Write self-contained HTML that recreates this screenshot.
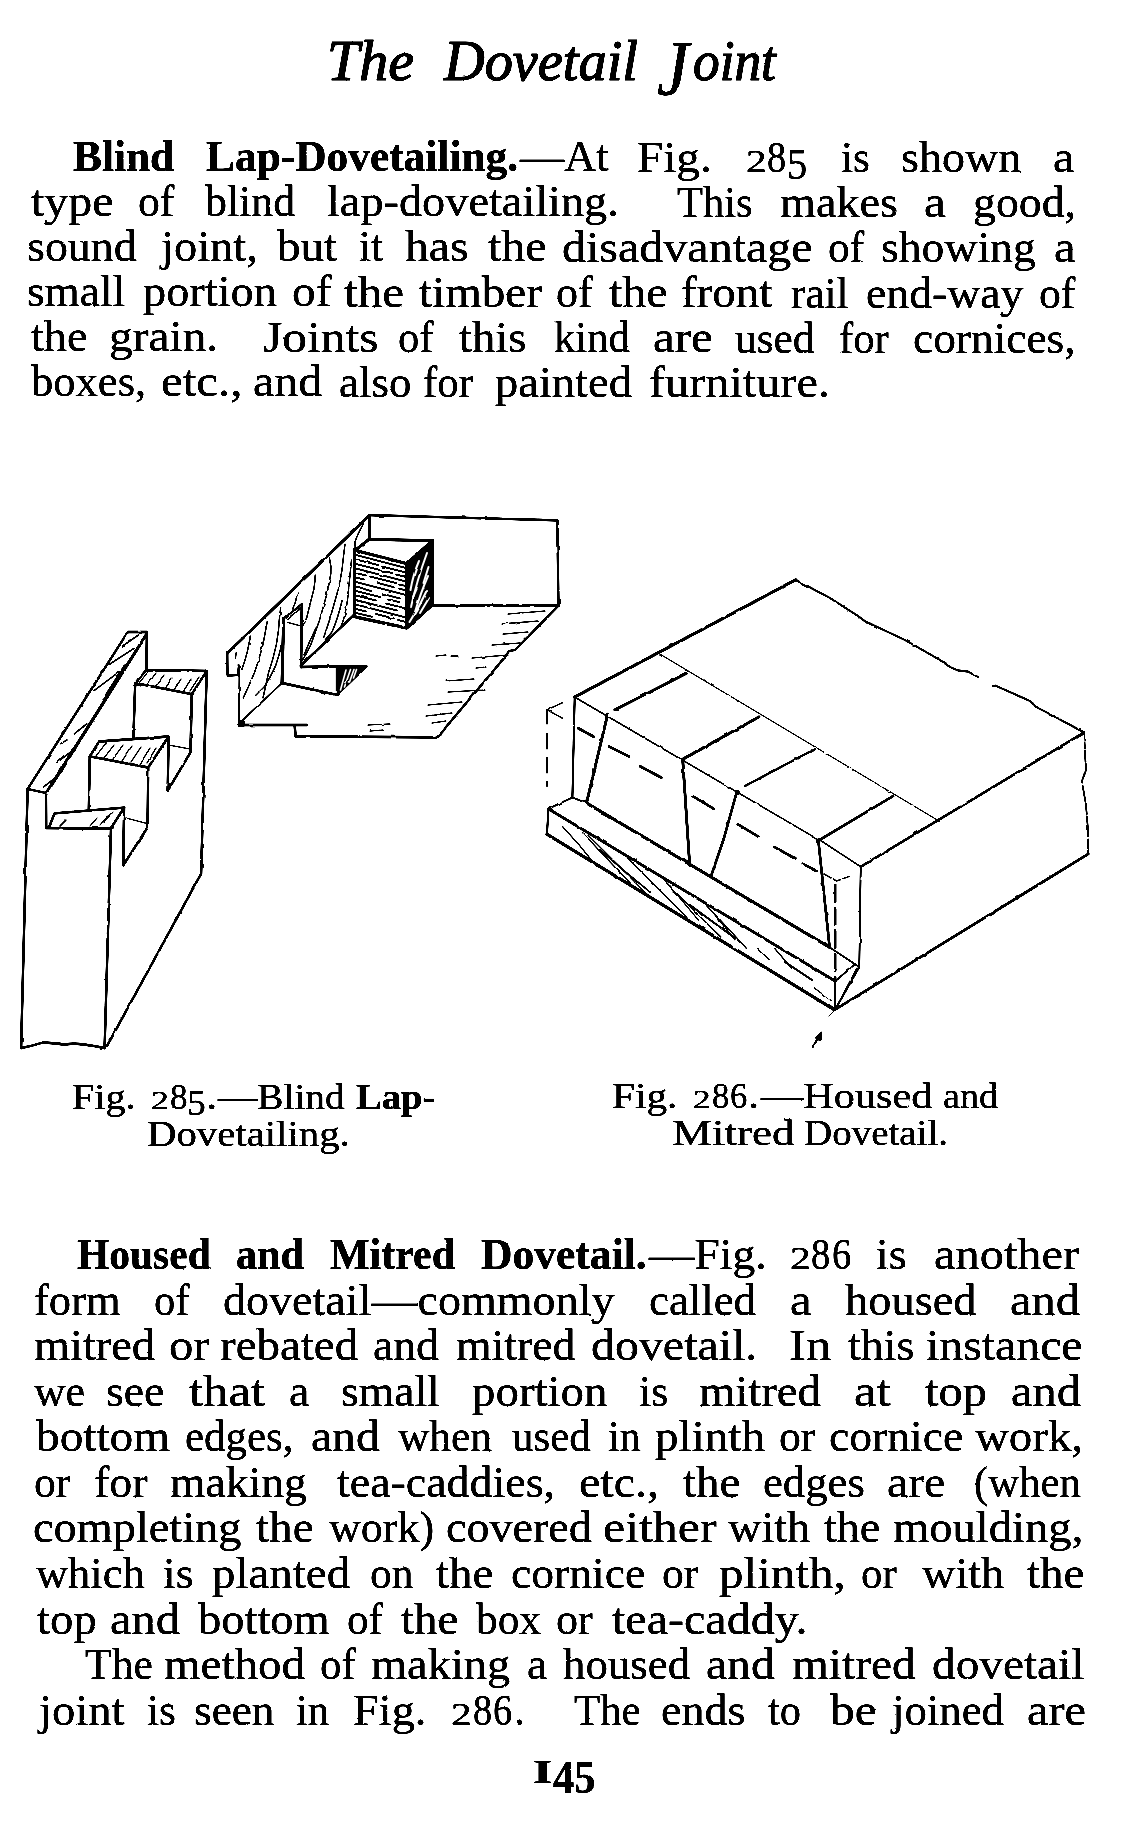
<!DOCTYPE html>
<html><head><meta charset="utf-8"><title>The Dovetail Joint</title>
<style>
html,body{margin:0;padding:0;background:#fff;}
body{width:1132px;height:1837px;position:relative;overflow:hidden;font-family:"Liberation Serif",serif;color:#000;}
.t{position:absolute;white-space:pre;line-height:1;transform-origin:0 0;font-family:"Liberation Serif",serif;-webkit-text-stroke:0.3px #000;}
svg{position:absolute;left:0;top:0;}
#txt{position:absolute;left:0;top:0;width:1132px;height:1837px;filter:url(#roughtxt);}
</style></head><body>
<div id="txt">
<div class="t" style="left:327.2px;top:31.7px;font-size:58.0px;font-style:italic;-webkit-text-stroke:1.2px #000;transform:scaleX(0.998)">The</div>
<div class="t" style="left:444.0px;top:31.7px;font-size:58.0px;font-style:italic;-webkit-text-stroke:1.2px #000;transform:scaleX(0.971)">Dovetail</div>
<div class="t" style="left:693.3px;top:31.7px;font-size:58.0px;font-style:italic;-webkit-text-stroke:1.2px #000;transform:scaleX(0.919)">oint</div>
<div class="t" style="left:657.1px;top:29.2px;font-size:78.0px;font-style:italic;-webkit-text-stroke:0.6px #000;transform:scaleX(0.919)">J</div>
<div class="t" style="left:72.9px;top:134.8px;font-size:44.0px;font-weight:bold;transform:scaleX(0.985)">Blind</div>
<div class="t" style="left:206.0px;top:135.1px;font-size:44.0px;font-weight:bold;transform:scaleX(0.986)">Lap-Dovetailing.</div>
<div class="t" style="left:519.5px;top:135.3px;font-size:44.0px;transform:scaleX(1.005)">—At</div>
<div class="t" style="left:637.1px;top:135.5px;font-size:44.0px;transform:scaleX(1.072)">Fig.</div>
<div class="t" style="left:745.8px;top:146.6px;font-size:30.8px;transform:scaleX(1.342)">2</div>
<div class="t" style="left:767.1px;top:135.6px;font-size:44.0px;transform:scaleX(0.872)">8</div>
<div class="t" style="left:786.9px;top:143.1px;font-size:44.0px;transform:scaleX(0.918)">5</div>
<div class="t" style="left:841.3px;top:135.7px;font-size:44.0px;transform:scaleX(0.985)">is</div>
<div class="t" style="left:901.2px;top:135.8px;font-size:44.0px;transform:scaleX(1.047)">shown</div>
<div class="t" style="left:1053.0px;top:135.9px;font-size:44.0px;transform:scaleX(1.089)">a</div>
<div class="t" style="left:30.5px;top:179.7px;font-size:44.0px;transform:scaleX(1.089)">type</div>
<div class="t" style="left:138.1px;top:179.8px;font-size:44.0px;transform:scaleX(0.994)">of</div>
<div class="t" style="left:205.4px;top:179.9px;font-size:44.0px;transform:scaleX(0.996)">blind</div>
<div class="t" style="left:327.2px;top:180.2px;font-size:44.0px;transform:scaleX(1.052)">lap-dovetailing.</div>
<div class="t" style="left:676.5px;top:180.5px;font-size:44.0px;transform:scaleX(0.966)">This</div>
<div class="t" style="left:780.0px;top:180.7px;font-size:44.0px;transform:scaleX(1.050)">makes</div>
<div class="t" style="left:924.4px;top:180.8px;font-size:44.0px;transform:scaleX(1.121)">a</div>
<div class="t" style="left:972.8px;top:180.9px;font-size:44.0px;transform:scaleX(1.041)">good,</div>
<div class="t" style="left:26.8px;top:224.8px;font-size:44.0px;transform:scaleX(1.044)">sound</div>
<div class="t" style="left:161.1px;top:225.0px;font-size:44.0px;transform:scaleX(1.056)">joint,</div>
<div class="t" style="left:277.0px;top:225.1px;font-size:44.0px;transform:scaleX(1.071)">but</div>
<div class="t" style="left:358.8px;top:225.2px;font-size:44.0px;transform:scaleX(0.985)">it</div>
<div class="t" style="left:404.6px;top:225.3px;font-size:44.0px;transform:scaleX(1.083)">has</div>
<div class="t" style="left:488.0px;top:225.4px;font-size:44.0px;transform:scaleX(1.091)">the</div>
<div class="t" style="left:561.6px;top:225.6px;font-size:44.0px;transform:scaleX(1.091)">disadvantage</div>
<div class="t" style="left:827.7px;top:225.8px;font-size:44.0px;transform:scaleX(0.985)">of</div>
<div class="t" style="left:881.4px;top:225.9px;font-size:44.0px;transform:scaleX(1.038)">showing</div>
<div class="t" style="left:1053.5px;top:226.0px;font-size:44.0px;transform:scaleX(1.106)">a</div>
<div class="t" style="left:26.8px;top:269.9px;font-size:44.0px;transform:scaleX(1.029)">small</div>
<div class="t" style="left:143.1px;top:270.2px;font-size:44.0px;transform:scaleX(1.053)">portion</div>
<div class="t" style="left:291.9px;top:270.4px;font-size:44.0px;transform:scaleX(1.075)">of</div>
<div class="t" style="left:343.6px;top:270.6px;font-size:44.0px;transform:scaleX(1.116)">the</div>
<div class="t" style="left:419.1px;top:270.8px;font-size:44.0px;transform:scaleX(1.070)">timber</div>
<div class="t" style="left:556.0px;top:271.1px;font-size:44.0px;transform:scaleX(1.003)">of</div>
<div class="t" style="left:609.0px;top:271.2px;font-size:44.0px;transform:scaleX(1.091)">the</div>
<div class="t" style="left:680.8px;top:271.4px;font-size:44.0px;transform:scaleX(1.069)">front</div>
<div class="t" style="left:790.6px;top:271.6px;font-size:44.0px;transform:scaleX(0.983)">rail</div>
<div class="t" style="left:865.5px;top:271.9px;font-size:44.0px;transform:scaleX(1.039)">end-way</div>
<div class="t" style="left:1039.0px;top:272.2px;font-size:44.0px;transform:scaleX(0.994)">of</div>
<div class="t" style="left:31.3px;top:314.9px;font-size:44.0px;transform:scaleX(1.049)">the</div>
<div class="t" style="left:108.9px;top:315.2px;font-size:44.0px;transform:scaleX(1.077)">grain.</div>
<div class="t" style="left:263.1px;top:315.5px;font-size:44.0px;transform:scaleX(1.125)">Joints</div>
<div class="t" style="left:398.1px;top:315.8px;font-size:44.0px;transform:scaleX(0.969)">of</div>
<div class="t" style="left:458.9px;top:316.0px;font-size:44.0px;transform:scaleX(1.062)">this</div>
<div class="t" style="left:554.3px;top:316.2px;font-size:44.0px;transform:scaleX(0.970)">kind</div>
<div class="t" style="left:653.0px;top:316.4px;font-size:44.0px;transform:scaleX(1.114)">are</div>
<div class="t" style="left:734.9px;top:316.6px;font-size:44.0px;transform:scaleX(0.986)">used</div>
<div class="t" style="left:839.0px;top:316.8px;font-size:44.0px;transform:scaleX(0.969)">for</div>
<div class="t" style="left:913.2px;top:317.2px;font-size:44.0px;transform:scaleX(1.032)">cornices,</div>
<div class="t" style="left:31.3px;top:360.0px;font-size:44.0px;transform:scaleX(1.013)">boxes,</div>
<div class="t" style="left:160.6px;top:360.2px;font-size:44.0px;transform:scaleX(1.113)">etc.,</div>
<div class="t" style="left:253.3px;top:360.3px;font-size:44.0px;transform:scaleX(1.087)">and</div>
<div class="t" style="left:338.6px;top:360.5px;font-size:44.0px;transform:scaleX(1.021)">also</div>
<div class="t" style="left:423.4px;top:360.7px;font-size:44.0px;transform:scaleX(0.972)">for</div>
<div class="t" style="left:494.7px;top:360.9px;font-size:44.0px;transform:scaleX(1.057)">painted</div>
<div class="t" style="left:649.0px;top:361.2px;font-size:44.0px;transform:scaleX(1.097)">furniture.</div>
<div class="t" style="left:71.5px;top:1078.8px;font-size:36.0px;transform:scaleX(1.116)">Fig.</div>
<div class="t" style="left:150.8px;top:1087.9px;font-size:25.2px;transform:scaleX(1.419)">2</div>
<div class="t" style="left:169.8px;top:1078.8px;font-size:36.0px;transform:scaleX(0.975)">8</div>
<div class="t" style="left:187.3px;top:1085.0px;font-size:36.0px;transform:scaleX(1.040)">5</div>
<div class="t" style="left:206.0px;top:1078.8px;font-size:36.0px;transform:scaleX(1.254)">.</div>
<div class="t" style="left:217.9px;top:1078.8px;font-size:36.0px;transform:scaleX(1.091)">—Blind</div>
<div class="t" style="left:356.0px;top:1078.8px;font-size:36.0px;font-weight:bold;transform:scaleX(1.073)">Lap-</div>
<div class="t" style="left:147.0px;top:1116.2px;font-size:36.0px;transform:scaleX(1.133)">Dovetailing.</div>
<div class="t" style="left:612.0px;top:1077.8px;font-size:36.0px;transform:scaleX(1.146)">Fig.</div>
<div class="t" style="left:693.4px;top:1086.8px;font-size:25.2px;transform:scaleX(1.399)">2</div>
<div class="t" style="left:712.1px;top:1077.8px;font-size:36.0px;transform:scaleX(0.962)">8</div>
<div class="t" style="left:730.4px;top:1077.8px;font-size:36.0px;transform:scaleX(0.962)">6</div>
<div class="t" style="left:747.8px;top:1077.8px;font-size:36.0px;transform:scaleX(1.237)">.</div>
<div class="t" style="left:760.6px;top:1077.8px;font-size:36.0px;transform:scaleX(1.174)">—Housed</div>
<div class="t" style="left:943.1px;top:1077.8px;font-size:36.0px;transform:scaleX(1.061)">and</div>
<div class="t" style="left:671.5px;top:1115.2px;font-size:36.0px;transform:scaleX(1.249)">Mitred</div>
<div class="t" style="left:803.7px;top:1115.2px;font-size:36.0px;transform:scaleX(1.083)">Dovetail.</div>
<div class="t" style="left:77.4px;top:1233.0px;font-size:44.0px;font-weight:bold;transform:scaleX(0.943)">Housed</div>
<div class="t" style="left:236.2px;top:1233.0px;font-size:44.0px;font-weight:bold;transform:scaleX(0.960)">and</div>
<div class="t" style="left:330.4px;top:1233.0px;font-size:44.0px;font-weight:bold;transform:scaleX(0.953)">Mitred</div>
<div class="t" style="left:481.4px;top:1233.0px;font-size:44.0px;font-weight:bold;transform:scaleX(0.990)">Dovetail.</div>
<div class="t" style="left:648.5px;top:1233.0px;font-size:44.0px;transform:scaleX(1.035)">—Fig.</div>
<div class="t" style="left:789.6px;top:1244.0px;font-size:30.8px;transform:scaleX(1.348)">2</div>
<div class="t" style="left:811.0px;top:1233.0px;font-size:44.0px;transform:scaleX(0.876)">8</div>
<div class="t" style="left:831.8px;top:1233.0px;font-size:44.0px;transform:scaleX(0.876)">6</div>
<div class="t" style="left:875.7px;top:1233.0px;font-size:44.0px;transform:scaleX(1.035)">is</div>
<div class="t" style="left:934.3px;top:1233.0px;font-size:44.0px;transform:scaleX(1.100)">another</div>
<div class="t" style="left:34.2px;top:1278.6px;font-size:44.0px;transform:scaleX(1.013)">form</div>
<div class="t" style="left:153.8px;top:1278.6px;font-size:44.0px;transform:scaleX(0.969)">of</div>
<div class="t" style="left:223.0px;top:1278.6px;font-size:44.0px;transform:scaleX(1.047)">dovetail—commonly</div>
<div class="t" style="left:649.1px;top:1278.6px;font-size:44.0px;transform:scaleX(1.019)">called</div>
<div class="t" style="left:789.5px;top:1278.6px;font-size:44.0px;transform:scaleX(1.106)">a</div>
<div class="t" style="left:844.9px;top:1278.6px;font-size:44.0px;transform:scaleX(1.055)">housed</div>
<div class="t" style="left:1009.8px;top:1278.6px;font-size:44.0px;transform:scaleX(1.102)">and</div>
<div class="t" style="left:33.9px;top:1324.4px;font-size:44.0px;transform:scaleX(1.054)">mitred</div>
<div class="t" style="left:168.5px;top:1324.4px;font-size:44.0px;transform:scaleX(1.106)">or</div>
<div class="t" style="left:220.0px;top:1324.4px;font-size:44.0px;transform:scaleX(1.067)">rebated</div>
<div class="t" style="left:373.1px;top:1324.4px;font-size:44.0px;transform:scaleX(1.038)">and</div>
<div class="t" style="left:456.3px;top:1324.4px;font-size:44.0px;transform:scaleX(1.040)">mitred</div>
<div class="t" style="left:590.7px;top:1324.4px;font-size:44.0px;transform:scaleX(1.089)">dovetail.</div>
<div class="t" style="left:789.4px;top:1324.4px;font-size:44.0px;transform:scaleX(1.153)">In</div>
<div class="t" style="left:847.6px;top:1324.4px;font-size:44.0px;transform:scaleX(1.044)">this</div>
<div class="t" style="left:926.1px;top:1324.4px;font-size:44.0px;transform:scaleX(1.086)">instance</div>
<div class="t" style="left:34.0px;top:1369.8px;font-size:44.0px;transform:scaleX(0.994)">we</div>
<div class="t" style="left:106.3px;top:1369.8px;font-size:44.0px;transform:scaleX(1.038)">see</div>
<div class="t" style="left:188.6px;top:1369.8px;font-size:44.0px;transform:scaleX(1.155)">that</div>
<div class="t" style="left:289.4px;top:1369.8px;font-size:44.0px;transform:scaleX(1.044)">a</div>
<div class="t" style="left:340.5px;top:1369.8px;font-size:44.0px;transform:scaleX(1.036)">small</div>
<div class="t" style="left:472.2px;top:1369.8px;font-size:44.0px;transform:scaleX(1.066)">portion</div>
<div class="t" style="left:639.4px;top:1369.8px;font-size:44.0px;transform:scaleX(0.994)">is</div>
<div class="t" style="left:699.1px;top:1369.8px;font-size:44.0px;transform:scaleX(1.062)">mitred</div>
<div class="t" style="left:854.2px;top:1369.8px;font-size:44.0px;transform:scaleX(1.155)">at</div>
<div class="t" style="left:924.8px;top:1369.8px;font-size:44.0px;transform:scaleX(1.103)">top</div>
<div class="t" style="left:1011.1px;top:1369.8px;font-size:44.0px;transform:scaleX(1.100)">and</div>
<div class="t" style="left:35.8px;top:1415.4px;font-size:44.0px;transform:scaleX(1.075)">bottom</div>
<div class="t" style="left:184.5px;top:1415.4px;font-size:44.0px;transform:scaleX(0.975)">edges,</div>
<div class="t" style="left:310.7px;top:1415.4px;font-size:44.0px;transform:scaleX(1.081)">and</div>
<div class="t" style="left:397.9px;top:1415.4px;font-size:44.0px;transform:scaleX(0.987)">when</div>
<div class="t" style="left:511.9px;top:1415.4px;font-size:44.0px;transform:scaleX(0.975)">used</div>
<div class="t" style="left:607.9px;top:1415.4px;font-size:44.0px;transform:scaleX(0.955)">in</div>
<div class="t" style="left:655.4px;top:1415.4px;font-size:44.0px;transform:scaleX(1.071)">plinth</div>
<div class="t" style="left:779.0px;top:1415.4px;font-size:44.0px;transform:scaleX(0.994)">or</div>
<div class="t" style="left:829.3px;top:1415.4px;font-size:44.0px;transform:scaleX(1.037)">cornice</div>
<div class="t" style="left:975.1px;top:1415.4px;font-size:44.0px;transform:scaleX(1.065)">work,</div>
<div class="t" style="left:33.5px;top:1461.1px;font-size:44.0px;transform:scaleX(0.992)">or</div>
<div class="t" style="left:94.4px;top:1461.1px;font-size:44.0px;transform:scaleX(1.046)">for</div>
<div class="t" style="left:169.6px;top:1461.1px;font-size:44.0px;transform:scaleX(1.037)">making</div>
<div class="t" style="left:337.0px;top:1461.1px;font-size:44.0px;transform:scaleX(1.044)">tea-caddies,</div>
<div class="t" style="left:578.8px;top:1461.1px;font-size:44.0px;transform:scaleX(1.093)">etc.,</div>
<div class="t" style="left:683.2px;top:1461.1px;font-size:44.0px;transform:scaleX(1.067)">the</div>
<div class="t" style="left:763.1px;top:1461.1px;font-size:44.0px;transform:scaleX(1.017)">edges</div>
<div class="t" style="left:886.6px;top:1461.1px;font-size:44.0px;transform:scaleX(1.086)">are</div>
<div class="t" style="left:974.1px;top:1461.1px;font-size:44.0px;transform:scaleX(0.972)">(when</div>
<div class="t" style="left:32.8px;top:1506.4px;font-size:44.0px;transform:scaleX(1.053)">completing</div>
<div class="t" style="left:255.8px;top:1506.4px;font-size:44.0px;transform:scaleX(1.072)">the</div>
<div class="t" style="left:329.0px;top:1506.4px;font-size:44.0px;transform:scaleX(1.000)">work)</div>
<div class="t" style="left:446.0px;top:1506.4px;font-size:44.0px;transform:scaleX(1.047)">covered</div>
<div class="t" style="left:602.6px;top:1506.4px;font-size:44.0px;transform:scaleX(1.133)">either</div>
<div class="t" style="left:728.3px;top:1506.4px;font-size:44.0px;transform:scaleX(1.051)">with</div>
<div class="t" style="left:823.7px;top:1506.4px;font-size:44.0px;transform:scaleX(1.047)">the</div>
<div class="t" style="left:893.0px;top:1506.4px;font-size:44.0px;transform:scaleX(1.059)">moulding,</div>
<div class="t" style="left:35.8px;top:1551.5px;font-size:44.0px;transform:scaleX(1.010)">which</div>
<div class="t" style="left:163.0px;top:1551.5px;font-size:44.0px;transform:scaleX(1.035)">is</div>
<div class="t" style="left:212.0px;top:1551.5px;font-size:44.0px;transform:scaleX(1.067)">planted</div>
<div class="t" style="left:370.4px;top:1551.5px;font-size:44.0px;transform:scaleX(0.986)">on</div>
<div class="t" style="left:436.4px;top:1551.5px;font-size:44.0px;transform:scaleX(1.065)">the</div>
<div class="t" style="left:510.9px;top:1551.5px;font-size:44.0px;transform:scaleX(1.037)">cornice</div>
<div class="t" style="left:662.4px;top:1551.5px;font-size:44.0px;transform:scaleX(0.992)">or</div>
<div class="t" style="left:719.0px;top:1551.5px;font-size:44.0px;transform:scaleX(1.116)">plinth,</div>
<div class="t" style="left:861.2px;top:1551.5px;font-size:44.0px;transform:scaleX(0.973)">or</div>
<div class="t" style="left:922.1px;top:1551.5px;font-size:44.0px;transform:scaleX(1.051)">with</div>
<div class="t" style="left:1026.8px;top:1551.5px;font-size:44.0px;transform:scaleX(1.067)">the</div>
<div class="t" style="left:36.6px;top:1597.5px;font-size:44.0px;transform:scaleX(1.065)">top</div>
<div class="t" style="left:110.2px;top:1597.5px;font-size:44.0px;transform:scaleX(1.102)">and</div>
<div class="t" style="left:197.5px;top:1597.5px;font-size:44.0px;transform:scaleX(1.057)">bottom</div>
<div class="t" style="left:346.8px;top:1597.5px;font-size:44.0px;transform:scaleX(0.980)">of</div>
<div class="t" style="left:400.6px;top:1597.5px;font-size:44.0px;transform:scaleX(1.067)">the</div>
<div class="t" style="left:476.1px;top:1597.5px;font-size:44.0px;transform:scaleX(0.985)">box</div>
<div class="t" style="left:556.0px;top:1597.5px;font-size:44.0px;transform:scaleX(1.003)">or</div>
<div class="t" style="left:611.7px;top:1597.5px;font-size:44.0px;transform:scaleX(1.092)">tea-caddy.</div>
<div class="t" style="left:84.8px;top:1642.8px;font-size:44.0px;transform:scaleX(0.991)">The</div>
<div class="t" style="left:164.3px;top:1642.8px;font-size:44.0px;transform:scaleX(1.068)">method</div>
<div class="t" style="left:320.4px;top:1642.8px;font-size:44.0px;transform:scaleX(0.975)">of</div>
<div class="t" style="left:371.4px;top:1642.8px;font-size:44.0px;transform:scaleX(1.055)">making</div>
<div class="t" style="left:526.8px;top:1642.8px;font-size:44.0px;transform:scaleX(1.033)">a</div>
<div class="t" style="left:562.7px;top:1642.8px;font-size:44.0px;transform:scaleX(1.020)">housed</div>
<div class="t" style="left:706.0px;top:1642.8px;font-size:44.0px;transform:scaleX(1.081)">and</div>
<div class="t" style="left:791.9px;top:1642.8px;font-size:44.0px;transform:scaleX(1.076)">mitred</div>
<div class="t" style="left:931.6px;top:1642.8px;font-size:44.0px;transform:scaleX(1.075)">dovetail</div>
<div class="t" style="left:39.2px;top:1689.0px;font-size:44.0px;transform:scaleX(1.061)">joint</div>
<div class="t" style="left:147.1px;top:1689.0px;font-size:44.0px;transform:scaleX(0.985)">is</div>
<div class="t" style="left:193.8px;top:1689.0px;font-size:44.0px;transform:scaleX(1.030)">seen</div>
<div class="t" style="left:295.9px;top:1689.0px;font-size:44.0px;transform:scaleX(0.967)">in</div>
<div class="t" style="left:353.1px;top:1689.0px;font-size:44.0px;transform:scaleX(1.053)">Fig.</div>
<div class="t" style="left:451.3px;top:1700.0px;font-size:30.8px;transform:scaleX(1.339)">2</div>
<div class="t" style="left:472.5px;top:1689.0px;font-size:44.0px;transform:scaleX(0.870)">8</div>
<div class="t" style="left:493.2px;top:1689.0px;font-size:44.0px;transform:scaleX(0.870)">6</div>
<div class="t" style="left:513.5px;top:1689.0px;font-size:44.0px;transform:scaleX(0.999)">.</div>
<div class="t" style="left:574.4px;top:1689.0px;font-size:44.0px;transform:scaleX(0.973)">The</div>
<div class="t" style="left:661.0px;top:1689.0px;font-size:44.0px;transform:scaleX(1.047)">ends</div>
<div class="t" style="left:767.9px;top:1689.0px;font-size:44.0px;transform:scaleX(0.966)">to</div>
<div class="t" style="left:829.9px;top:1689.0px;font-size:44.0px;transform:scaleX(1.122)">be</div>
<div class="t" style="left:892.3px;top:1689.0px;font-size:44.0px;transform:scaleX(1.018)">joined</div>
<div class="t" style="left:1027.0px;top:1689.0px;font-size:44.0px;transform:scaleX(1.098)">are</div>
<div class="t" style="left:532.5px;top:1756.4px;font-size:33.0px;font-weight:bold;transform:scaleX(1.500)">I</div>
<div class="t" style="left:553.0px;top:1755.0px;font-size:46.0px;font-weight:bold;transform:scaleX(0.922)">45</div>
</div>
<svg width="1132" height="1837" viewBox="0 0 1132 1837" fill="none" stroke="#000" stroke-linecap="round" stroke-linejoin="round">
<defs><filter id="rough" x="0" y="0" width="100%" height="100%" filterUnits="userSpaceOnUse"><feTurbulence type="fractalNoise" baseFrequency="0.09" numOctaves="2" seed="7" result="n"/><feDisplacementMap in="SourceGraphic" in2="n" scale="2.2" xChannelSelector="R" yChannelSelector="G" result="d"/><feComponentTransfer in="d"><feFuncA type="linear" slope="4" intercept="-0.7"/></feComponentTransfer></filter><filter id="roughtxt" x="0" y="0" width="1132" height="1837" filterUnits="userSpaceOnUse"><feTurbulence type="fractalNoise" baseFrequency="0.35" numOctaves="2" seed="3" result="n"/><feDisplacementMap in="SourceGraphic" in2="n" scale="1.6" xChannelSelector="R" yChannelSelector="G" result="d"/><feComponentTransfer in="d"><feFuncA type="linear" slope="3" intercept="-0.85"/></feComponentTransfer></filter></defs>
<!-- ===== Fig 285 left piece (pin board) ===== -->
<g id="f285a" stroke-width="2.3" filter="url(#rough)">
  <path d="M27.6 789 L127.8 632 L146.9 632 L146.5 670"/>
  <path d="M46 793 L146.5 634" stroke-width="2.4"/>
  <path d="M27.6 789 L46 793"/>
  <path d="M27.6 789 L21.1 1048"/>
  <path d="M21.1 1048 Q32 1046 43 1042.5 Q54 1043 64 1044.5 Q74 1043 84 1044.5 Q95 1046 104.6 1048"/>
  <path d="M104.6 1048 L111 828"/>
  <path d="M46 793 L46.2 827.5"/>
  <path d="M46.2 828 L111 828.6" stroke-width="2.4"/>
  <path d="M49 827.5 L54.5 813.4 L124.1 807.6 L111 828.2"/>
  <path d="M124.1 807.6 L123.2 865.3 L147.6 827.3"/>
  <path d="M126 818 L147.3 823.6" stroke-width="1"/>
  <path d="M148.2 767.5 L147.6 827.3"/>
  <path d="M89.8 756.4 L99.1 741.5 L168.6 736.5 L148.2 767.5 Z"/>
  <path d="M89.8 756.4 L88.8 809.5"/>
  <path d="M168.6 736.5 L167.7 790.7 L190.9 751.7"/>
  <path d="M169.6 745.2 L190 749" stroke-width="1"/>
  <path d="M191.8 694.2 L190.5 751"/>
  <path d="M135.2 683.1 L146.4 670.1 L206.7 671 L191.8 694.2 Z"/>
  <path d="M135.2 683.1 L133.4 737"/>
  <path d="M206.7 671 L201.1 873.7 L107 1046"/>
  <!-- hatching -->
  <g stroke-width="1.1">
    <path d="M139 683 L148 672 M147 685 L156 673 M155 687 L164 675 M165 689 L172 678 M174 690 L181 679 M183 692 L191 679 M190 691 L199 677"/>
    <path d="M96 756 L106 743 M104 758 L114 745 M113 759 L123 745 M122 761 L132 746 M131 762 L141 747 M140 764 L150 748 M147 763 L156 748"/>
    <path d="M60 826 L66 820 M90 826 L97 818 M100 825 L108 816 M104 822 L113 812"/>
    <path d="M122.6 646 L138.7 634.9 M109 664.6 L133.8 648.5 M94.2 690.5 L118.9 672 M74.4 733.8 L86.8 723.9 M60.8 743.7 L67 740 M57.1 762.3 L71.9 751.1 M43.5 787 L54.6 778.4" stroke-width="1.4"/>
    <path d="M104 699 L125 666 M61 771 L73 750" stroke-width="3"/>
    <path d="M52 786 L142 643" stroke-width="1.3"/>
  </g>
</g>
<!-- ===== Fig 285 upper piece (tail board) ===== -->
<g id="f285b" stroke-width="2.2" filter="url(#rough)">
  <path d="M369.5 515.2 L557.4 520.3 L558.4 605.7" />
  <path d="M432.4 605.2 L558.4 605.7" stroke-width="2.4"/>
  <path d="M369.5 515.2 L227.2 653.4" stroke-width="2.6"/>
  <path d="M227.2 653.4 L227.4 675.7 L238 675 L239 666"/>
  <path d="M239.4 666 L239 724.5" stroke-width="1.3"/>
  <path d="M238.5 665 L240 667 M239 721.5 L243.5 721.5 L243.5 725.5 L239 725.5 Z" stroke-width="2" fill="#000"/>
  <path d="M238 725 L307 725 M294.7 725 L295.5 736.5 L435.5 737.3" stroke-width="2.4"/>
  <path d="M435.5 737 Q442 734 446 727 L505 657 L509 651 L515 650 L558.4 605.7"/>
  <path d="M240 722.6 L282 683" stroke-width="1.5"/>
  <path d="M283.6 619.3 L282 683" stroke-width="2.8"/>
  <path d="M283.6 619.3 L301.9 604.1 L301 667" stroke-width="2.4"/>
  <path d="M288 622.5 L301 626 M288 619.5 L300 609" stroke-width="1.2"/>
  <path d="M301 667 L366.3 666.2 L336.9 694.8 L282 683" stroke-width="2.4"/>
  <path d="M336.9 668 L336.9 694.8"/>
  <path d="M337.5 668 L366.5 666 L337.5 694.5 Z" fill="#000" stroke-width="1"/>
  <g stroke="#fff" stroke-width="1.6">
    <path d="M340.5 690 L346 670"/>
    <path d="M344.5 687 L350.5 669.5"/>
    <path d="M349.5 682 L354 669.5"/>
    <path d="M353.5 678 L356.5 669.5"/>
  </g>
  <path d="M301 665.4 L354.4 614.5" stroke-width="2.4"/>
  <path d="M354.4 549.3 L354.4 616.5" stroke-width="3"/>
  <path d="M355.2 550.3 L368.9 539.3 L432.5 540.6 L406.8 563.6 Z" stroke-width="2.8"/>
  <path d="M354.4 616.8 L406.8 628 L432 605.1 L432.5 540.6" stroke-width="3"/>
  <path d="M406.8 563.6 L406.8 628" stroke-width="2.6"/>
  <path d="M369.5 515.2 L369.5 538.4" stroke-width="2.4"/>
  <!-- block right face dark -->
  <path d="M407.5 564.5 L431.5 543 L431 605 L407.5 626.5 Z" fill="#000" stroke="none"/>
  <g stroke="#fff" stroke-width="2">
    <path d="M410.5 590 Q413 575 419 561"/>
    <path d="M411 607 Q417 580 427 553"/>
    <path d="M415 612 Q421 592 428 576"/>
    <path d="M409.5 622 Q420 606 427 590"/>
    <path d="M420 613 L429 598"/>
    <path d="M423.5 583 L428.5 567"/>
    <path d="M413 597 L417 588"/>
  </g>
  <!-- block front stripes -->
  <g stroke-width="1.5">
    <path d="M356 555 L406 568"/>
    <path d="M356 559.5 L378 565 M382 566.5 L406 572.5"/>
    <path d="M356 564 L392 573 M396 574.5 L406 577"/>
    <path d="M356 568.5 L406 581.5"/>
    <path d="M356 573 L366 575.5 M370 576.5 L396 583 M399 584.5 L406 586"/>
    <path d="M356 577.5 L364 579.5 M378 583 L395 587.5 M399 588.5 L406 590.5"/>
    <path d="M356 582 L406 595"/>
    <path d="M356 586.5 L362 588 M364 589 L371 591 M383 594 L400 598.5"/>
    <path d="M356 591 L380 597 M388 599.5 L399 602"/>
    <path d="M356 595.5 L376 600.5 M386 603.5 L406 608.5"/>
    <path d="M356 600 L397 610.5"/>
    <path d="M356 604.5 L406 617.5"/>
    <path d="M356 609 L366 611.5 M376 614 L394 618.5 M398 620 L406 622"/>
    <path d="M356 613 L372 616.8"/>
  </g>
  <!-- wood grain on wall -->
  <g stroke-width="1.2">
    <path d="M363.3 524 Q357 535 354.9 542.5 L355.4 549"/>
    <path d="M345 544 Q343 560 342.1 569.4 Q339 588 335.1 600.5 Q330 620 323.8 637.2"/>
    <path d="M351.5 560 Q349.5 580 347.5 600 Q345 618 340.7 627.3"/>
    <path d="M329.4 558 Q331.5 566 330.8 573.6 Q329 585 326.6 594.8 Q323 608 319.5 620.2 Q315 633 311 644.3 Q307 653 302.6 659.8"/>
    <path d="M315.3 575 Q315 582 313.9 589.2 Q310 604 306.8 617.4 L302.6 627.3"/>
    <path d="M297.6 592 L295.5 601.9 L292.7 608.9"/>
    <path d="M280.7 607.5 Q279 620 278.5 630.1 L276.4 644.3 Q273 660 268.6 672.5 L263 698"/>
    <path d="M267.2 621.7 Q265 634 263 644.3 Q259 660 254.5 672.5 Q249 686 243.2 698"/>
    <path d="M250.3 637.2 L247.4 651.3 Q245 661 241.8 669.7"/>
    <path d="M281.4 645.7 Q279 656 275.7 665.5 Q270 678 264.4 686.7 L255.9 695.2"/>
    <path d="M236.1 652.8 L235.4 658.4"/>
    <path d="M342.1 600.5 Q338 618 332.2 631.6 L325.2 640"/>
    <path d="M304 655 Q310 640 316 628"/>
  </g>
  <!-- shading on base right -->
  <g stroke-width="1.2">
    <path d="M508 614 L545 611 M502 624 L538 621 M503 634 L528 632 M492 645 L520 643 M436 656 L446 655 M451 656 L458 656 M472 658 L508 655 M476 668 L486 667 M446 681 L474 679 M448 692 L485 690 M428 705 L462 702 M426 716 L452 713 M432 723 L446 721 M368 725 L390 724 M370 731 L383 730"/>
  </g>
</g>
<!-- ===== Fig 286 ===== -->
<g id="f286" stroke-width="1.6" filter="url(#rough)">
  <!-- top outline -->
  <path d="M574.7 697.1 L795.7 579.8" stroke-width="2.8"/>
  <path d="M795.7 579.8 L830 598 L858 616 L866 622 L872 624.5 L905 640 L940 660 L950 667 L958 670.5 L968 671.5 L978 677" stroke-width="1.9"/>
  <path d="M994 685 L1030 701 L1038 708 L1046 712 L1084 732.4" stroke-width="1.9"/>
  <path d="M1084 732.4 L1086 770 L1082 782 L1086 805 L1088 830 L1088.2 854" stroke-width="1.5" stroke-dasharray="16 2 11 2 20 3"/>
  <path d="M1084 732.4 L860.7 866.7" stroke-width="2.3"/>
  <path d="M1088.2 854 L835.2 1009.5" stroke-width="2.6"/>
  <path d="M860.7 866.7 L859.3 967.1 L835.2 1009.5" stroke-width="1.6"/>
  <!-- left edges -->
  <path d="M574.7 697.1 L572.4 797.5" stroke-width="1.8"/>
  <path d="M574.7 697.1 L819 840" stroke-width="1.3"/>
  <path d="M819.7 839.9 L860.7 866.7" stroke-width="1.3"/>
  <!-- thin top line -->
  <path d="M658.6 653.3 L939.8 821.5" stroke-width="1"/>
  <!-- tails -->
  <path d="M607.7 714.1 L586.5 803.1" stroke-width="2.6"/>
  <path d="M614.8 709.8 L686.9 673.1" stroke-width="2.6"/>
  <path d="M682.7 759.3 L689.7 865.3" stroke-width="2.6"/>
  <path d="M682.7 759.3 L759 716.9" stroke-width="2.8"/>
  <path d="M736.4 793.2 L724 838 L710.9 876.6" stroke-width="2.4"/>
  <circle cx="737.5" cy="792.5" r="2.2" fill="#000" stroke="none"/>
  <path d="M744.8 786.1 L814.1 749.4" stroke-width="2"/>
  <path d="M818.3 839.9 L829.6 947.3" stroke-width="2.4"/>
  <path d="M819.7 839.9 L893.2 796" stroke-width="2.4"/>
  <!-- bottom of block front -->
  <path d="M586.5 803.1 L829.6 947.3" stroke-width="2.9"/>
  <!-- rail -->
  <path d="M572.4 797.5 L548.4 808.8 L547 834.2" stroke-width="1.8"/>
  <path d="M547 834.2 L833.9 1009.5" stroke-width="3"/>
  <path d="M548.4 808.8 L835.3 981.2" stroke-width="2.6"/>
  <path d="M572.4 797.5 L586.5 803.1"/>
  <path d="M829.6 947.3 L855 964.2 L835.3 981.2 L835.2 1009.5"/>
  <path d="M859.3 967.1 L855 964.2" />
  <path d="M836 1008 L848 985 L857 968" stroke-width="1.1"/>
  <!-- dashed hidden lines -->
  <g stroke-width="2.5">
    <path d="M578 728.2 L593.6 736.7"/>
    <path d="M609.1 746.6 L629 756.5"/>
    <path d="M640.2 766.4 L661.4 777.7"/>
    <path d="M692.5 796 L713.7 808.8"/>
    <path d="M737.8 824.3 L759 837"/>
    <path d="M774.5 847 L794.3 858.2"/>
    <path d="M802.8 863.9 L816.9 871"/>
  </g>
  <path d="M835.3 885 L835.3 978.4" stroke-width="2" stroke-dasharray="17 6"/>
  <path d="M824 874 L836.6 881 L849 876.5" stroke-width="1.2" stroke-dasharray="8 2.5"/>
  <path d="M547 709.8 L547 786" stroke-width="1.5" stroke-dasharray="15 9"/>
  <path d="M547 709.8 L562.5 702.7 M547 709.8 L562.5 718.3" stroke-width="1.1"/>
  <!-- rail hatching -->
  <g stroke-width="1.1">
    <path d="M562.6 826.7 Q580 845 596.5 866.3"/>
    <path d="M582.4 832.4 Q605 857 630.5 883.3"/>
    <path d="M588 835.2 Q615 862 647.4 894.6"/>
    <path d="M627.6 857.8 Q655 886 687 917.2"/>
    <path d="M664.4 880.5 Q690 907 720.9 937"/>
    <path d="M670 886.1 L698.3 920"/>
    <path d="M706.8 905.9 Q725 925 746.4 948.3"/>
    <path d="M712.4 911.6 L735 939.8"/>
    <path d="M757.7 948.3 L769 959.6"/>
    <path d="M774.6 948.3 L791.6 968.1"/>
    <path d="M814.2 987.9 L831.2 1000.6"/>
    <path d="M600 850 Q625 872 650 892" stroke-width="1.6"/>
    <path d="M690 905 Q710 920 735 938" stroke-width="1.6"/>
    <path d="M785 962 L812 980" stroke-width="1.6"/>
  </g>
  <!-- arrow -->
  <path d="M812.7 1047 L820 1035" stroke-width="1.8"/>
  <path d="M815.5 1037.5 L821.5 1032 L821 1041 Z" fill="#000" stroke-width="1"/>
  <path d="M829 1016 L835 1010" stroke-width="1"/>
</g>
</svg>

</body></html>
